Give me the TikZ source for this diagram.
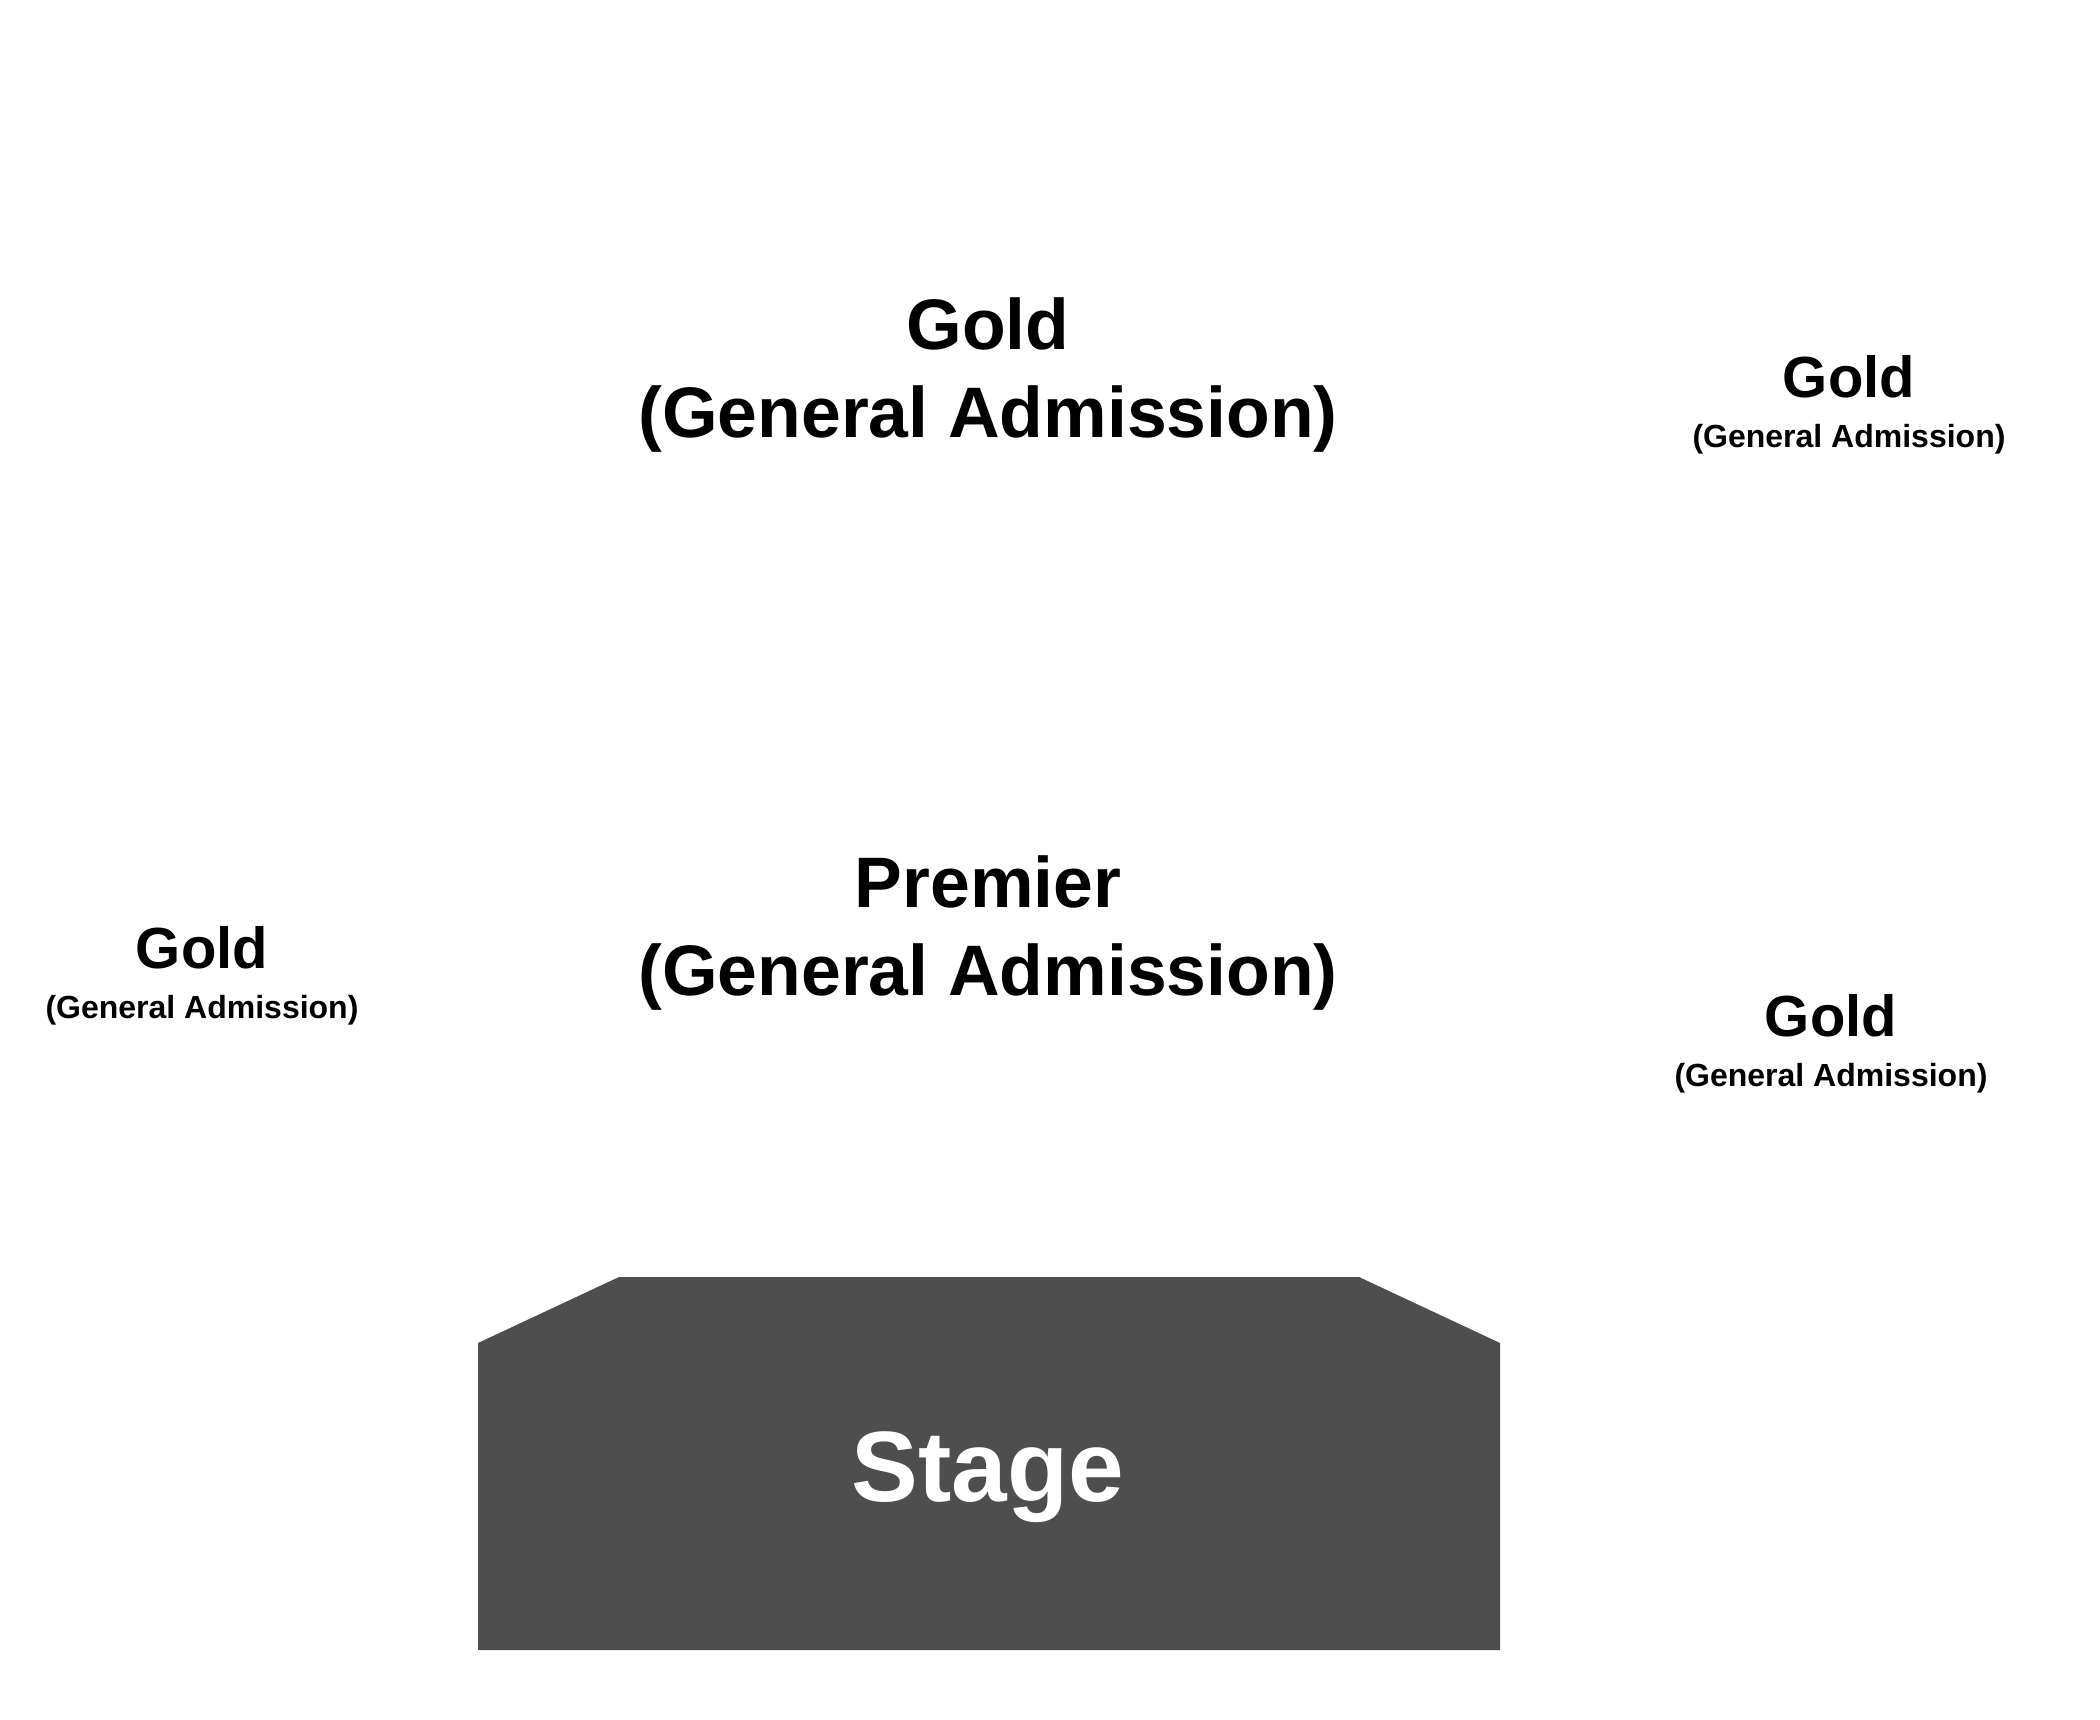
\documentclass[tikz,border=0pt]{standalone}
\usepackage{fontspec}
\setmainfont{Liberation Sans}
\begin{document}
\begin{tikzpicture}[x=1pt,y=-1pt,
  lbl/.style={anchor=base,inner sep=0pt,font=\bfseries\fontsize{#1}{#1}\selectfont,text=black},
  stagefill/.style={fill=stagegray,draw=none}]
\definecolor{stagegray}{HTML}{4E4E4E}
\useasboundingbox[fill=white] (0,0) rectangle (2100,1720);
% stage
\path[stagefill] (478,1343) -- (619,1277) -- (1359,1277) -- (1500,1343) -- (1500,1650) -- (478,1650) -- cycle;
\node[lbl=100,text=white] (stage) at (988,1501) {Stage};
% top centre
\node[lbl=71.5] (g1a) at (988,349) {Gold};
\node[lbl=71.5] (g1b) at (988,437) {(General Admission)};
% premier
\node[lbl=71.5] (pa) at (988,907) {Premier};
\node[lbl=71.5] (pb) at (988,995) {(General Admission)};
% left
\node[lbl=58] (g2a) at (202,968) {Gold};
\node[lbl=32] (g2b) at (202,1018) {(General Admission)};
% right top
\node[lbl=58] (g3a) at (1849,397) {Gold};
\node[lbl=32] (g3b) at (1849,447) {(General Admission)};
% right bottom
\node[lbl=58] (g4a) at (1831,1036) {Gold};
\node[lbl=32] (g4b) at (1831,1086) {(General Admission)};
\end{tikzpicture}
\end{document}
